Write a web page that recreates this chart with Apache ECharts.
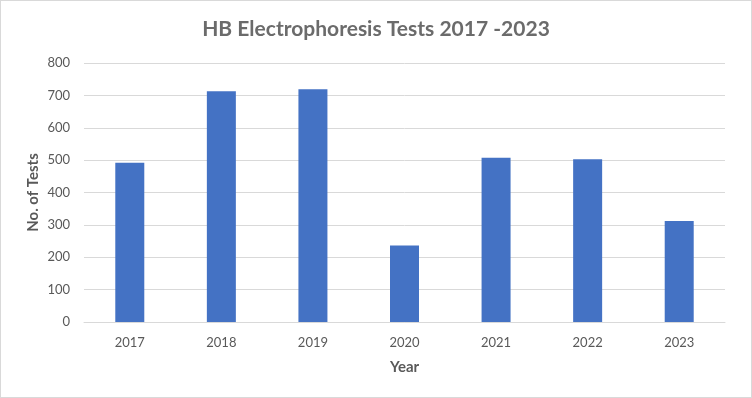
<!DOCTYPE html>
<html><head><meta charset="utf-8">
<script src="https://cdn.jsdelivr.net/npm/echarts@6/dist/echarts.min.js"></script>
<style>html,body{margin:0;padding:0;background:#fff}#c{width:752px;height:398px;box-sizing:border-box;border:1px solid #d9d9d9}</style>
</head><body><div id="c"></div>
<script>
const years = ['2017','2018','2019','2020','2021','2022','2023'];
const tests = [492, 713, 719, 236, 507, 503, 312];
const yTicks = [0,100,200,300,400,500,600,700,800];
const chart = echarts.init(document.getElementById('c'));
const font = 'Lato, "Open Sans", sans-serif';
chart.setOption({
  animation:false,
  title:{text:'HB Electrophoresis Tests 2017 -2023',left:'center',top:13,
    textStyle:{fontFamily:font,fontSize:21,fontWeight:'bold',color:'#6b6b6b'}},
  grid:{left:83,right:26,top:62,bottom:75},
  xAxis:{type:'category',data:years,name:'Year',nameLocation:'middle',nameGap:38,
    nameTextStyle:{fontFamily:font,fontSize:15,fontWeight:'bold',color:'#595959'},
    axisLine:{lineStyle:{color:'#d9d9d9'}},axisTick:{show:false},
    axisLabel:{fontFamily:font,fontSize:13,color:'#595959',margin:14}},
  yAxis:{type:'value',min:yTicks[0],max:yTicks[yTicks.length-1],interval:100,
    name:'No. of Tests',nameLocation:'middle',nameGap:43,nameMoveOverlap:false,
    nameTextStyle:{fontFamily:font,fontSize:15,fontWeight:'bold',color:'#595959'},
    axisLine:{show:false},axisTick:{show:false},
    axisLabel:{fontFamily:font,fontSize:13,color:'#595959',margin:14},
    splitLine:{lineStyle:{color:'#d9d9d9'}}},
  series:[{type:'bar',data:tests,barWidth:29,itemStyle:{color:'#4472c4'}}]
});
</script></body></html>
